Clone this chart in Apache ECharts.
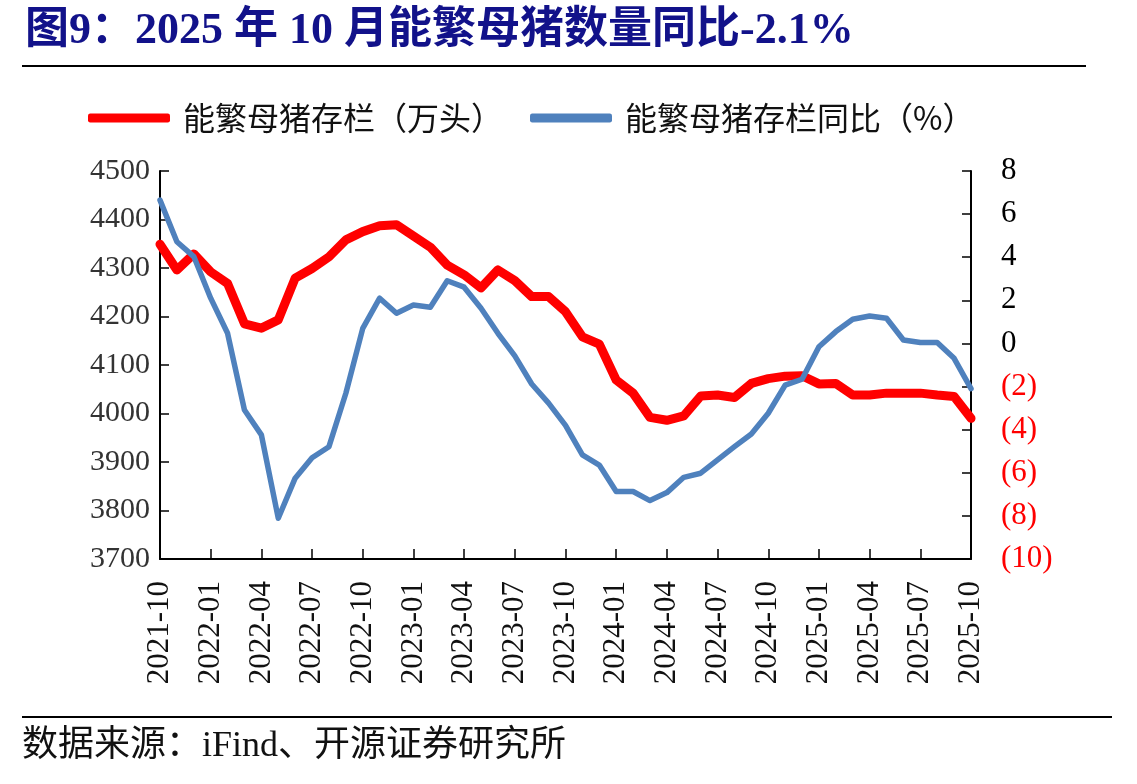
<!DOCTYPE html>
<html>
<head>
<meta charset="utf-8">
<script src="https://cdn.jsdelivr.net/npm/echarts@6/dist/echarts.min.js"></script>
<style>
    html, body { margin: 0; padding: 0; background: #fff; }
    #chart { width: 1137px; height: 784px; }
</style>
</head>
<body>
<div id="chart"></div>
<script>
// 月份（横轴）
var months = [
    '2021-10', '2021-11', '2021-12',
    '2022-01', '2022-02', '2022-03', '2022-04', '2022-05', '2022-06',
    '2022-07', '2022-08', '2022-09', '2022-10', '2022-11', '2022-12',
    '2023-01', '2023-02', '2023-03', '2023-04', '2023-05', '2023-06',
    '2023-07', '2023-08', '2023-09', '2023-10', '2023-11', '2023-12',
    '2024-01', '2024-02', '2024-03', '2024-04', '2024-05', '2024-06',
    '2024-07', '2024-08', '2024-09', '2024-10', '2024-11', '2024-12',
    '2025-01', '2025-02', '2025-03', '2025-04', '2025-05', '2025-06',
    '2025-07', '2025-08', '2025-09', '2025-10'
];

// 能繁母猪存栏（万头）
var sowStock = [
    4349, 4296, 4329,
    4292, 4268, 4185, 4176, 4193, 4279,
    4299, 4323, 4358, 4375, 4387, 4389,
    4366, 4343, 4306, 4286, 4259, 4296,
    4274, 4241, 4241, 4210, 4158, 4143,
    4069, 4042, 3992, 3986, 3995, 4036,
    4038, 4033, 4062, 4072, 4077, 4078,
    4061, 4062, 4038, 4038, 4042, 4042,
    4042, 4038, 4035, 3990
];

// 能繁母猪存栏同比（%）
var sowYoy = [
    6.65, 4.72, 4.03,
    2.10, 0.47, -3.09, -4.24, -8.11, -6.25,
    -5.30, -4.79, -2.31, 0.70, 2.10, 1.40,
    1.78, 1.68, 2.91, 2.61, 1.63, 0.47,
    -0.58, -1.88, -2.77, -3.80, -5.17, -5.64,
    -6.87, -6.87, -7.29, -6.92, -6.21, -6.02,
    -5.40, -4.79, -4.20, -3.24, -1.93, -1.66,
    -0.15, 0.55, 1.12, 1.27, 1.17, 0.16,
    0.04, 0.04, -0.69, -2.10
];

var serifFont = '"Liberation Serif", "Noto Sans CJK SC", serif';
var cjkFont = '"Noto Sans CJK SC", "Liberation Serif", sans-serif';

var chart = echarts.init(document.getElementById('chart'), null, { renderer: 'canvas' });

var option = {
    backgroundColor: '#ffffff',
    animation: false,
    title: {
        text: '图9：2025 年 10 月能繁母猪数量同比-2.1%',
        left: 20,
        top: 5,
        textStyle: {
            color: '#12128a',
            fontSize: 44,
            fontWeight: 'bold',
            fontFamily: serifFont
        }
    },
    legend: {
        left: 83,
        top: 97,
        itemWidth: 82,
        itemHeight: 9,
        itemGap: 27,
        icon: 'roundRect',
        textStyle: {
            fontSize: 32,
            color: '#111',
            fontFamily: cjkFont,
            padding: [0, 0, 0, 8]
        },
        data: ['能繁母猪存栏（万头）', '能繁母猪存栏同比（%）']
    },
    grid: {
        left: 160,
        right: 166,
        top: 171,
        bottom: 225,
        containLabel: false
    },
    xAxis: {
        type: 'category',
        data: months,
        boundaryGap: false,
        axisLine: { onZero: false, lineStyle: { color: '#000', width: 2 } },
        axisTick: { inside: true, interval: 2, length: 10, lineStyle: { color: '#000', width: 1.5 } },
        axisLabel: {
            interval: 2,
            rotate: 90,
            margin: 22,
            fontSize: 31,
            color: '#111',
            fontFamily: serifFont
        },
        splitLine: { show: false }
    },
    yAxis: [
        {
            type: 'value',
            min: 3700,
            max: 4500,
            interval: 100,
            axisLine: { show: true, lineStyle: { color: '#000', width: 2 } },
            axisTick: { show: true, inside: true, length: 9, lineStyle: { color: '#000', width: 1.5 } },
            axisLabel: {
                margin: 10,
                fontSize: 30,
                color: '#333',
                fontFamily: serifFont,
                formatter: function (v) { return String(v); }
            },
            splitLine: { show: false }
        },
        {
            type: 'value',
            min: -10,
            max: 8,
            interval: 2,
            position: 'right',
            axisLine: { show: true, lineStyle: { color: '#000', width: 2 } },
            axisTick: { show: true, inside: true, length: 9, lineStyle: { color: '#000', width: 1.5 } },
            axisLabel: {
                margin: 30,
                fontSize: 31,
                fontFamily: serifFont,
                formatter: function (v) {
                    if (v < 0) {
                        return '{neg|(' + (-v) + ')}';
                    }
                    return '{pos|' + v + '}';
                },
                rich: {
                    neg: { color: '#ff0000', fontSize: 31, fontFamily: serifFont },
                    pos: { color: '#000000', fontSize: 31, fontFamily: serifFont }
                }
            },
            splitLine: { show: false }
        }
    ],
    series: [
        {
            name: '能繁母猪存栏（万头）',
            type: 'line',
            yAxisIndex: 0,
            data: sowStock,
            symbol: 'none',
            color: '#ff0000',
            lineStyle: { color: '#ff0000', width: 9, join: 'round', cap: 'round' },
            z: 2
        },
        {
            name: '能繁母猪存栏同比（%）',
            type: 'line',
            yAxisIndex: 1,
            data: sowYoy,
            symbol: 'none',
            color: '#4f81bd',
            lineStyle: { color: '#4f81bd', width: 5.5, join: 'round', cap: 'round' },
            z: 3
        }
    ],
    graphic: [
        {
            type: 'line',
            shape: { x1: 22, y1: 66, x2: 1086, y2: 66 },
            style: { stroke: '#000', lineWidth: 2 }
        },
        {
            type: 'line',
            shape: { x1: 22, y1: 717, x2: 1112, y2: 717 },
            style: { stroke: '#000', lineWidth: 2 }
        },
        {
            type: 'text',
            left: 22,
            top: 729,
            style: {
                text: '数据来源：iFind、开源证券研究所',
                fontSize: 36,
                fontFamily: serifFont,
                fill: '#111'
            }
        }
    ]
};

chart.setOption(option);
</script>
</body>
</html>
